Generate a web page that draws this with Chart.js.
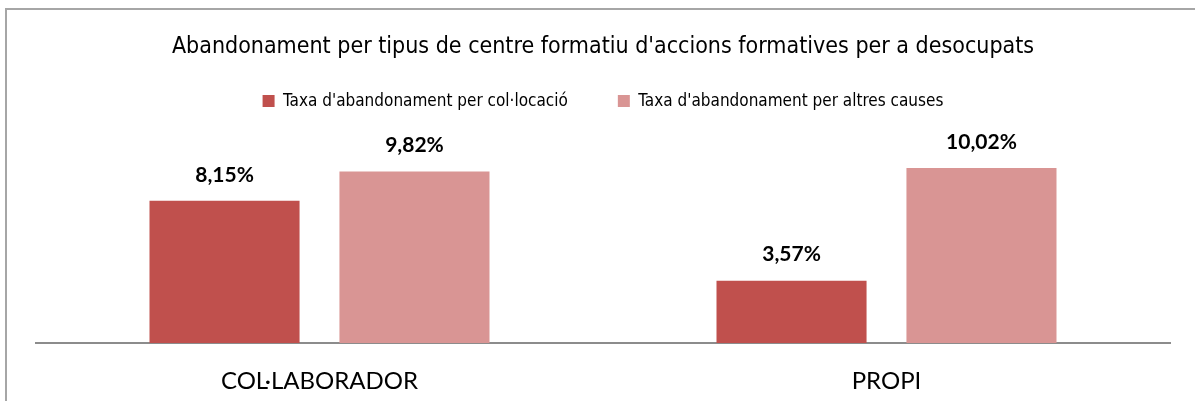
<!DOCTYPE html>
<html>
<head>
<meta charset="utf-8">
<script src="https://cdn.jsdelivr.net/npm/chart.js@4/dist/chart.umd.min.js"></script>
<style>
	html, body { margin: 0; background: #fff; overflow: hidden; }
	#frame { position: absolute; left: 5px; top: 8px; width: 1190px; height: 400px; border: 2px solid #a6a6a6; border-right: none; box-sizing: border-box; }
	#wrap { position: absolute; left: 0; top: 0; width: 1195px; height: 401px; }
</style>
</head>
<body>
<div id="frame"></div>
<div id="wrap"><canvas id="chart"></canvas></div>
<script>
"use strict";

// chart data
var categories = ["COL·LABORADOR", "PROPI"];
var seriesNames = ["Taxa d'abandonament per col·locació", "Taxa d'abandonament per altres causes"];
var colocacio = [8.15, 3.57];
var altresCauses = [9.82, 10.02];
var seriesColors = ["#c0504d", "#d99594"];


// draws the value above each bar, excel style
var valueLabels = {
	id: "valueLabels",
	afterDatasetsDraw: function(chart) {
		var ctx = chart.ctx;
		ctx.save();
		ctx.font = "bold 21px Lato";
		ctx.fillStyle = "#000";
		ctx.textAlign = "center";
		ctx.textBaseline = "middle";
		chart.data.datasets.forEach(function(ds, i) {
			var meta = chart.getDatasetMeta(i);
			meta.data.forEach(function(bar, j) {
				var txt = ds.data[j].toFixed(2).replace(".", ",") + "%";
				ctx.fillText(txt, bar.x, bar.y - 26);
			});
		});
		ctx.restore();
	}
};

var ctx = document.getElementById("chart").getContext("2d");
var mainChart = new Chart(ctx, {
	type: "bar",
	data: {
		labels: categories,
		datasets: [{
			label: seriesNames[0],
			data: colocacio,
			backgroundColor: seriesColors[0]
		}, {
			label: seriesNames[1],
			data: altresCauses,
			backgroundColor: seriesColors[1]
		}]
	},
	options: {
		responsive: true,
		maintainAspectRatio: false,
		animation: false,
		categoryPercentage: 0.67,
		barPercentage: 0.79,
		layout: {
			padding: { left: 36, right: 25, top: 14.5, bottom: 0 }
		},
		plugins: {
			title: {
				display: true,
				text: "Abandonament per tipus de centre formatiu d'accions formatives per a desocupats",
				color: "#000",
				font: { family: "DejaVu Sans Condensed", size: 23, weight: "normal" },
				// negative bottom so the legend row sits close under the title
				padding: { top: 18.5, bottom: -18 }
			},
			legend: {
				display: true,
				position: "top",
				labels: {
					color: "#000",
					font: { family: "DejaVu Sans Condensed", size: 17 },
					boxWidth: 12,
					boxHeight: 12,
					padding: 50
				}
			},
			tooltip: { enabled: false }
		},
		scales: {
			x: {
				grid: { display: false, drawTicks: false },
				border: { display: true, color: "#8c8c8c", width: 2 },
				ticks: {
					color: "#000",
					font: { family: "Lato", size: 24 },
					padding: 23.6
				},
				// keep the axis band to the height used in the original
				afterFit: function(scale) {
					scale.height = 58;
				}
			},
			y: {
				display: false,
				min: 0,
				max: 12.8
			}
		}
	},
	plugins: [valueLabels]
});
</script>
</body>
</html>
